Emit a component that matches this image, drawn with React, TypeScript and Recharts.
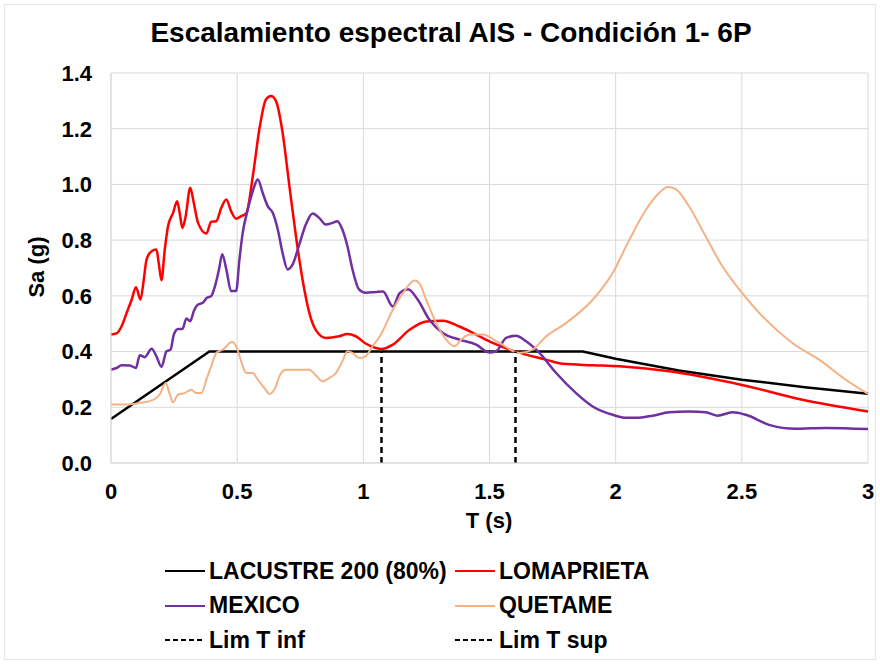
import { LineChart, Line, XAxis, YAxis, CartesianGrid } from 'recharts'

// periods (s) and spectral accelerations (g)
const lacustreT = [0, 0.39, 1.87, 2.0, 2.25, 2.5, 2.75, 3.0]
const lacustreSa = [0.158, 0.4, 0.4, 0.374, 0.332, 0.299, 0.272, 0.249]

const lomaT = [
  0, 0.022, 0.042, 0.062, 0.082, 0.099, 0.117, 0.13, 0.141, 0.161, 0.18, 0.189, 0.2, 0.213, 0.226,
  0.246, 0.262, 0.272, 0.283, 0.296, 0.314, 0.328, 0.345, 0.378, 0.397, 0.417, 0.437, 0.457, 0.476,
  0.496, 0.516, 0.536, 0.562, 0.588, 0.614, 0.634, 0.654, 0.68, 0.707, 0.733, 0.759, 0.786, 0.812,
  0.851, 0.904, 0.937, 0.97, 1.009, 1.049, 1.072, 1.117, 1.183, 1.249, 1.315, 1.381, 1.447, 1.513,
  1.579, 1.645, 1.724, 1.79, 1.909, 2.014, 2.212, 2.496, 2.74, 3.0,
]
const lomaSa = [
  0.461, 0.465, 0.491, 0.539, 0.587, 0.631, 0.587, 0.659, 0.731, 0.76, 0.766, 0.719, 0.656, 0.766,
  0.85, 0.898, 0.94, 0.898, 0.844, 0.886, 0.988, 0.934, 0.862, 0.824, 0.866, 0.868, 0.916, 0.946,
  0.904, 0.877, 0.886, 0.896, 1.03, 1.198, 1.305, 1.317, 1.299, 1.186, 0.994, 0.814, 0.659, 0.539,
  0.477, 0.449, 0.455, 0.463, 0.455, 0.429, 0.413, 0.409, 0.425, 0.478, 0.508, 0.511, 0.49, 0.461,
  0.431, 0.407, 0.389, 0.371, 0.356, 0.351, 0.347, 0.329, 0.281, 0.227, 0.185,
]

const mexicoT = [
  0, 0.022, 0.042, 0.075, 0.099, 0.114, 0.134, 0.161, 0.18, 0.2, 0.22, 0.236, 0.249, 0.266, 0.283,
  0.299, 0.314, 0.328, 0.345, 0.364, 0.38, 0.397, 0.414, 0.428, 0.441, 0.457, 0.476, 0.496, 0.509,
  0.522, 0.542, 0.562, 0.582, 0.601, 0.621, 0.641, 0.661, 0.68, 0.7, 0.72, 0.746, 0.772, 0.799,
  0.825, 0.851, 0.878, 0.897, 0.917, 0.937, 0.957, 0.983, 1.009, 1.049, 1.078, 1.117, 1.144, 1.177,
  1.216, 1.262, 1.315, 1.381, 1.447, 1.5, 1.526, 1.566, 1.605, 1.645, 1.698, 1.764, 1.843, 1.909,
  1.988, 2.041, 2.08, 2.146, 2.212, 2.291, 2.357, 2.403, 2.463, 2.516, 2.608, 2.714, 2.833, 3.0,
]
const mexicoSa = [
  0.335, 0.341, 0.351, 0.35, 0.341, 0.387, 0.38, 0.41, 0.383, 0.345, 0.401, 0.407, 0.461, 0.481,
  0.481, 0.519, 0.509, 0.545, 0.569, 0.575, 0.593, 0.599, 0.641, 0.695, 0.749, 0.695, 0.617, 0.617,
  0.731, 0.826, 0.91, 0.976, 1.018, 0.97, 0.922, 0.898, 0.838, 0.754, 0.695, 0.713, 0.784, 0.856,
  0.896, 0.88, 0.856, 0.862, 0.868, 0.838, 0.778, 0.695, 0.623, 0.611, 0.614, 0.616, 0.562, 0.61,
  0.624, 0.586, 0.514, 0.467, 0.443, 0.425, 0.397, 0.401, 0.449, 0.457, 0.437, 0.395, 0.323, 0.251,
  0.203, 0.173, 0.162, 0.162, 0.17, 0.182, 0.185, 0.182, 0.17, 0.182, 0.173, 0.137, 0.123, 0.126,
  0.122,
]

const quetameT = [
  0, 0.062, 0.114, 0.154, 0.193, 0.217, 0.233, 0.246, 0.266, 0.292, 0.318, 0.338, 0.358, 0.378,
  0.397, 0.417, 0.443, 0.48, 0.496, 0.516, 0.536, 0.562, 0.582, 0.608, 0.628, 0.647, 0.674, 0.693,
  0.746, 0.786, 0.809, 0.838, 0.865, 0.891, 0.917, 0.937, 0.957, 0.983, 1.009, 1.036, 1.065, 1.117,
  1.157, 1.203, 1.223, 1.249, 1.289, 1.328, 1.361, 1.388, 1.421, 1.473, 1.539, 1.618, 1.671, 1.724,
  1.803, 1.909, 1.988, 2.054, 2.12, 2.172, 2.205, 2.238, 2.291, 2.357, 2.423, 2.496, 2.582, 2.7,
  2.806, 2.912, 3.0,
]
const quetameSa = [
  0.21, 0.21, 0.216, 0.222, 0.246, 0.287, 0.246, 0.218, 0.246, 0.251, 0.263, 0.251, 0.251, 0.299,
  0.347, 0.395, 0.407, 0.434, 0.419, 0.365, 0.323, 0.323, 0.299, 0.269, 0.248, 0.263, 0.323, 0.335,
  0.335, 0.335, 0.317, 0.293, 0.305, 0.323, 0.365, 0.401, 0.395, 0.377, 0.383, 0.419, 0.454, 0.55,
  0.61, 0.655, 0.644, 0.586, 0.502, 0.443, 0.419, 0.443, 0.461, 0.461, 0.431, 0.395, 0.407, 0.454,
  0.502, 0.586, 0.682, 0.801, 0.909, 0.969, 0.991, 0.983, 0.921, 0.813, 0.706, 0.616, 0.526, 0.431,
  0.371, 0.299, 0.248,
]

const limInfT = [1.072, 1.072]
const limSupT = [1.603, 1.603]
const limSa = [0, 0.4]

const xTicks = [0, 0.5, 1, 1.5, 2, 2.5, 3]
const yTicks = [0, 0.2, 0.4, 0.6, 0.8, 1.0, 1.2, 1.4]

const toPoints = (ts: number[], vals: number[]) => ts.map((T, i) => ({ T, Sa: vals[i] }))

const FONT = '"Liberation Sans", Arial, sans-serif'
const tickStyle = { fontSize: 22, fontWeight: 700, fill: '#000', fontFamily: FONT }

const legendRows = [
  [
    { name: 'LACUSTRE 200 (80%)', color: '#000000', dash: false },
    { name: 'LOMAPRIETA', color: '#ff0000', dash: false },
  ],
  [
    { name: 'MEXICO', color: '#7030a0', dash: false },
    { name: 'QUETAME', color: '#f4b183', dash: false },
  ],
  [
    { name: 'Lim T inf', color: '#000000', dash: true },
    { name: 'Lim T sup', color: '#000000', dash: true },
  ],
]

function LegendItem({ name, color, dash, left, top }: { name: string; color: string; dash: boolean; left: number; top: number }) {
  return (
    <div style={{ position: 'absolute', left, top, height: 30, display: 'flex', alignItems: 'center' }}>
      <svg width={42} height={30}>
        <line x1={0} y1={15} x2={40} y2={15} stroke={color} strokeWidth={2} strokeDasharray={dash ? '5 3' : undefined} />
      </svg>
      <span style={{ fontFamily: FONT, fontWeight: 700, fontSize: 23, color: '#000', marginLeft: 2, whiteSpace: 'nowrap' }}>
        {name}
      </span>
    </div>
  )
}

export default function App() {
  return (
    <div style={{ position: 'absolute', left: 0, top: 0, width: 880, height: 664, background: '#fff', overflow: 'hidden' }}>
      <div style={{ position: 'absolute', left: 4, top: 4, right: 4, bottom: 4, border: '1px solid #e6e6e6' }} />
      <div
        style={{
          position: 'absolute', left: 0, width: 902, top: 17, textAlign: 'center',
          fontFamily: FONT, fontWeight: 700, fontSize: 28, color: '#000',
        }}
      >
        Escalamiento espectral AIS - Condición 1- 6P
      </div>

      <div style={{ position: 'absolute', left: 0, top: 0 }}>
        <LineChart width={880} height={540} margin={{ top: 73, right: 12, left: 0, bottom: 0 }}>
          <CartesianGrid stroke="#d9d9d9" strokeWidth={1} />
          <XAxis
            type="number"
            dataKey="T"
            domain={[0, 3]}
            ticks={xTicks}
            height={77}
            tickSize={0}
            tickMargin={20}
            tickLine={false}
            axisLine={{ stroke: '#d9d9d9' }}
            tick={tickStyle}
            interval={0}
          />
          <YAxis
            type="number"
            dataKey="Sa"
            domain={[0, 1.4]}
            ticks={yTicks}
            width={111}
            tickSize={0}
            tickMargin={19}
            tickLine={false}
            axisLine={{ stroke: '#d9d9d9' }}
            tick={tickStyle}
            tickFormatter={(v: number) => v.toFixed(1)}
            interval={0}
          />
          <Line data={toPoints(lacustreT, lacustreSa)} dataKey="Sa" type="linear" stroke="#000" strokeWidth={2.5} dot={false} isAnimationActive={false} />
          <Line data={toPoints(lomaT, lomaSa)} dataKey="Sa" type="monotone" stroke="#ff0000" strokeWidth={2.5} dot={false} isAnimationActive={false} />
          <Line data={toPoints(mexicoT, mexicoSa)} dataKey="Sa" type="monotone" stroke="#7030a0" strokeWidth={2.5} dot={false} isAnimationActive={false} />
          <Line data={toPoints(quetameT, quetameSa)} dataKey="Sa" type="monotone" stroke="#f4b183" strokeWidth={2} dot={false} isAnimationActive={false} />
          <Line data={toPoints(limInfT, limSa)} dataKey="Sa" type="linear" stroke="#000" strokeWidth={2.5} strokeDasharray="6 4" dot={false} isAnimationActive={false} />
          <Line data={toPoints(limSupT, limSa)} dataKey="Sa" type="linear" stroke="#000" strokeWidth={2.5} strokeDasharray="6 4" dot={false} isAnimationActive={false} />
        </LineChart>
      </div>

      <div
        style={{
          position: 'absolute', left: 37, top: 267, transform: 'translate(-50%, -50%) rotate(-90deg)',
          fontFamily: FONT, fontWeight: 700, fontSize: 22, color: '#000', whiteSpace: 'nowrap',
        }}
      >
        Sa (g)
      </div>
      <div
        style={{
          position: 'absolute', left: 489, top: 521, transform: 'translate(-50%, -50%)',
          fontFamily: FONT, fontWeight: 700, fontSize: 22, color: '#000', whiteSpace: 'nowrap',
        }}
      >
        T (s)
      </div>

      {legendRows.map((row, r) =>
        row.map((item, c) => (
          <LegendItem key={item.name} {...item} left={c === 0 ? 165 : 455} top={556 + r * 34.5} />
        ))
      )}
    </div>
  )
}
